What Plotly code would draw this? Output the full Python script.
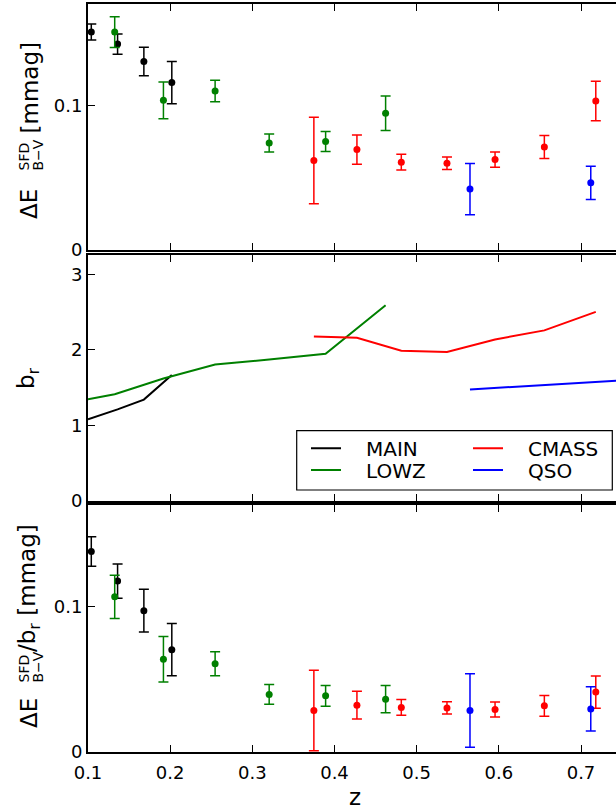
import plotly.graph_objects as go

# ---------------- data ----------------
main_z = [0.104, 0.136, 0.168, 0.202]
main_dE = [0.1506, 0.1423, 0.1303, 0.1157]
main_dE_err = [0.0055, 0.0070, 0.0098, 0.0146]
main_ratio = [0.1382, 0.1178, 0.0974, 0.0705]
main_ratio_err = [0.0102, 0.0118, 0.0147, 0.0180]
main_bz = [0.1, 0.136, 0.168, 0.202]
main_b = [1.08, 1.21, 1.34, 1.665]

lowz_z = [0.1325, 0.1918, 0.2547, 0.3205, 0.3892, 0.4622]
lowz_dE = [0.1506, 0.1034, 0.1099, 0.0740, 0.0750, 0.0945]
lowz_dE_err = [0.0106, 0.0127, 0.0074, 0.0062, 0.0069, 0.0119]
lowz_ratio = [0.1069, 0.0639, 0.0608, 0.0397, 0.0387, 0.0364]
lowz_ratio_err = [0.0149, 0.0157, 0.0082, 0.0068, 0.0071, 0.0094]
lowz_bz = [0.1, 0.1325, 0.1918, 0.2547, 0.3205, 0.3892, 0.4622]
lowz_b = [1.345, 1.41, 1.62, 1.806, 1.87, 1.947, 2.59]

cmass_z = [0.3749, 0.4273, 0.4813, 0.5369, 0.5954, 0.6554, 0.7180]
cmass_dE = [0.0619, 0.0694, 0.0607, 0.0600, 0.0625, 0.0712, 0.1030]
cmass_dE_err = [0.0299, 0.0101, 0.0054, 0.0043, 0.0053, 0.0080, 0.0137]
cmass_ratio = [0.0286, 0.0323, 0.0307, 0.0304, 0.0293, 0.0318, 0.0413]
cmass_ratio_err = [0.0277, 0.0095, 0.0054, 0.0042, 0.0052, 0.0071, 0.0111]
cmass_bz = [0.3749, 0.4273, 0.4813, 0.5369, 0.5954, 0.6554, 0.7180]
cmass_b = [2.177, 2.159, 1.987, 1.970, 2.137, 2.257, 2.503]

qso_z = [0.5649, 0.7119]
qso_dE = [0.0421, 0.0464]
qso_dE_err = [0.0177, 0.0115]
qso_ratio = [0.0286, 0.0297]
qso_ratio_err = [0.0254, 0.0153]
qso_bz = [0.5649, 0.7119, 0.745]
qso_b = [1.475, 1.569, 1.59]

x_ticks = [0.1, 0.2, 0.3, 0.4, 0.5, 0.6, 0.7]
x_tick_labels = ["0.1", "0.2", "0.3", "0.4", "0.5", "0.6", "0.7"]

# ---------------- layout geometry (pixels) ----------------
W, H = 616, 809
L, R, T, B = 88, 0, 4, 752
PH = B - T
PW = W - L - R


def ydom(top, bot):
    return [(B - bot) / PH, (B - top) / PH]


def px(x):
    return (x - L) / PW


def py(y):
    return (B - y) / PH


FONT = "DejaVu Sans"
BLACK = "#000000"
GREEN = "#008000"
RED = "#ff0000"
BLUE = "#0000ff"

series = [
    ("MAIN", BLACK, main_z, main_dE, main_dE_err, main_ratio, main_ratio_err, main_bz, main_b, "legend"),
    ("LOWZ", GREEN, lowz_z, lowz_dE, lowz_dE_err, lowz_ratio, lowz_ratio_err, lowz_bz, lowz_b, "legend2"),
    ("CMASS", RED, cmass_z, cmass_dE, cmass_dE_err, cmass_ratio, cmass_ratio_err, cmass_bz, cmass_b, "legend"),
    ("QSO", BLUE, qso_z, qso_dE, qso_dE_err, qso_ratio, qso_ratio_err, qso_bz, qso_b, "legend2"),
]

fig = go.Figure()
for name, col, z, dE, dEe, rt, rte, bz, b, lg in series:
    fig.add_trace(go.Scatter(
        x=z, y=dE, mode="markers", name=name, showlegend=False,
        marker=dict(color=col, size=7),
        error_y=dict(type="data", array=dEe, color=col, thickness=1.5, width=5),
        xaxis="x", yaxis="y"))
    fig.add_trace(go.Scatter(
        x=bz, y=b, mode="lines", name="\u2003" + name, showlegend=True, legend=lg,
        line=dict(color=col, width=2),
        xaxis="x2", yaxis="y2"))
    fig.add_trace(go.Scatter(
        x=z, y=rt, mode="markers", name=name, showlegend=False,
        marker=dict(color=col, size=7),
        error_y=dict(type="data", array=rte, color=col, thickness=1.5, width=5),
        xaxis="x3", yaxis="y3"))

xr = [0.1, 0.7426]
xcommon = dict(range=xr, tickmode="array", tickvals=x_ticks, ticktext=x_tick_labels,
               showgrid=False, zeroline=False, showline=True, linewidth=2, linecolor=BLACK,
               mirror="ticks", ticks="inside", ticklen=7, tickwidth=1, tickcolor=BLACK,
               automargin=False,
               tickfont=dict(family=FONT, size=18, color=BLACK))
ycommon = dict(showgrid=False, zeroline=False, showline=True, linewidth=2, linecolor=BLACK,
               mirror=False, ticks="inside", ticklen=7, tickwidth=1, tickcolor=BLACK,
               automargin=False,
               tickfont=dict(family=FONT, size=18, color=BLACK))

LEG_X = 306
legcommon = dict(orientation="h", x=px(LEG_X), xanchor="left", yanchor="middle",
                 bgcolor="rgba(0,0,0,0)", borderwidth=0, itemwidth=30,
                 entrywidth=117, entrywidthmode="pixels",
                 font=dict(family=FONT, size=20, color=BLACK))
fig.update_layout(
    template="none",
    width=W, height=H,
    margin=dict(l=L, r=R, t=T, b=H - B, pad=0, autoexpand=False),
    paper_bgcolor="white", plot_bgcolor="white",
    font=dict(family=FONT, color=BLACK),
    xaxis=dict(**xcommon, anchor="y", showticklabels=False),
    xaxis2=dict(**xcommon, anchor="y2", matches="x", showticklabels=False),
    xaxis3=dict(**xcommon, anchor="y3", matches="x", showticklabels=True, ticklabelstandoff=3),
    yaxis=dict(**ycommon, domain=ydom(4, 250), range=[0, 0.17], tickvals=[0, 0.1], ticktext=["0", "0.1"], anchor="x"),
    yaxis2=dict(**ycommon, domain=ydom(254.7, 500.7), range=[0, 3.26], tickvals=[0, 1, 2, 3], ticktext=["0", "1", "2", "3"], anchor="x2"),
    yaxis3=dict(**ycommon, domain=ydom(505.3, 752), range=[0, 0.17], tickvals=[0, 0.1], ticktext=["0", "0.1"], anchor="x3"),
    legend=dict(**legcommon, y=py(448.3)),
    legend2=dict(**legcommon, y=py(470)),
)

# legend frame
fig.add_shape(type="rect", xref="paper", yref="paper",
              x0=px(296.7), x1=px(612.3), y0=py(490), y1=py(430.7),
              line=dict(color=BLACK, width=1.2), fillcolor="white", layer="below")

AF = 23
SF = 14


def ann(text, x, y, size, yanchor="bottom"):
    fig.add_annotation(text=text, x=px(x), y=py(y), xref="paper", yref="paper",
                       textangle=-90, xanchor="center", yanchor=yanchor, showarrow=False,
                       borderpad=0, borderwidth=0, font=dict(family=FONT, size=size, color=BLACK))


# top y label
ann("ΔE", 29, 219, AF)
ann("SFD", 23.5, 171, SF)
ann("B\u2212V", 37, 171, SF)
ann("[mmag]", 29, 134, AF)
# middle y label
ann("b<sub>r</sub>", 28, 378, AF, yanchor="middle")
# bottom y label
ann("ΔE", 29, 728, AF)
ann("SFD", 23.5, 683, SF)
ann("B\u2212V", 37, 683, SF)
ann("/b<sub>r</sub> [mmag]", 29, 652, AF)
# x label
fig.add_annotation(text="z", x=px(355), y=py(797), xref="paper", yref="paper",
                   xanchor="center", yanchor="middle", showarrow=False,
                   font=dict(family=FONT, size=AF, color=BLACK))

fig.write_html("out.html", config={"displayModeBar": False},
               post_script="document.body.style.margin='0px';")
